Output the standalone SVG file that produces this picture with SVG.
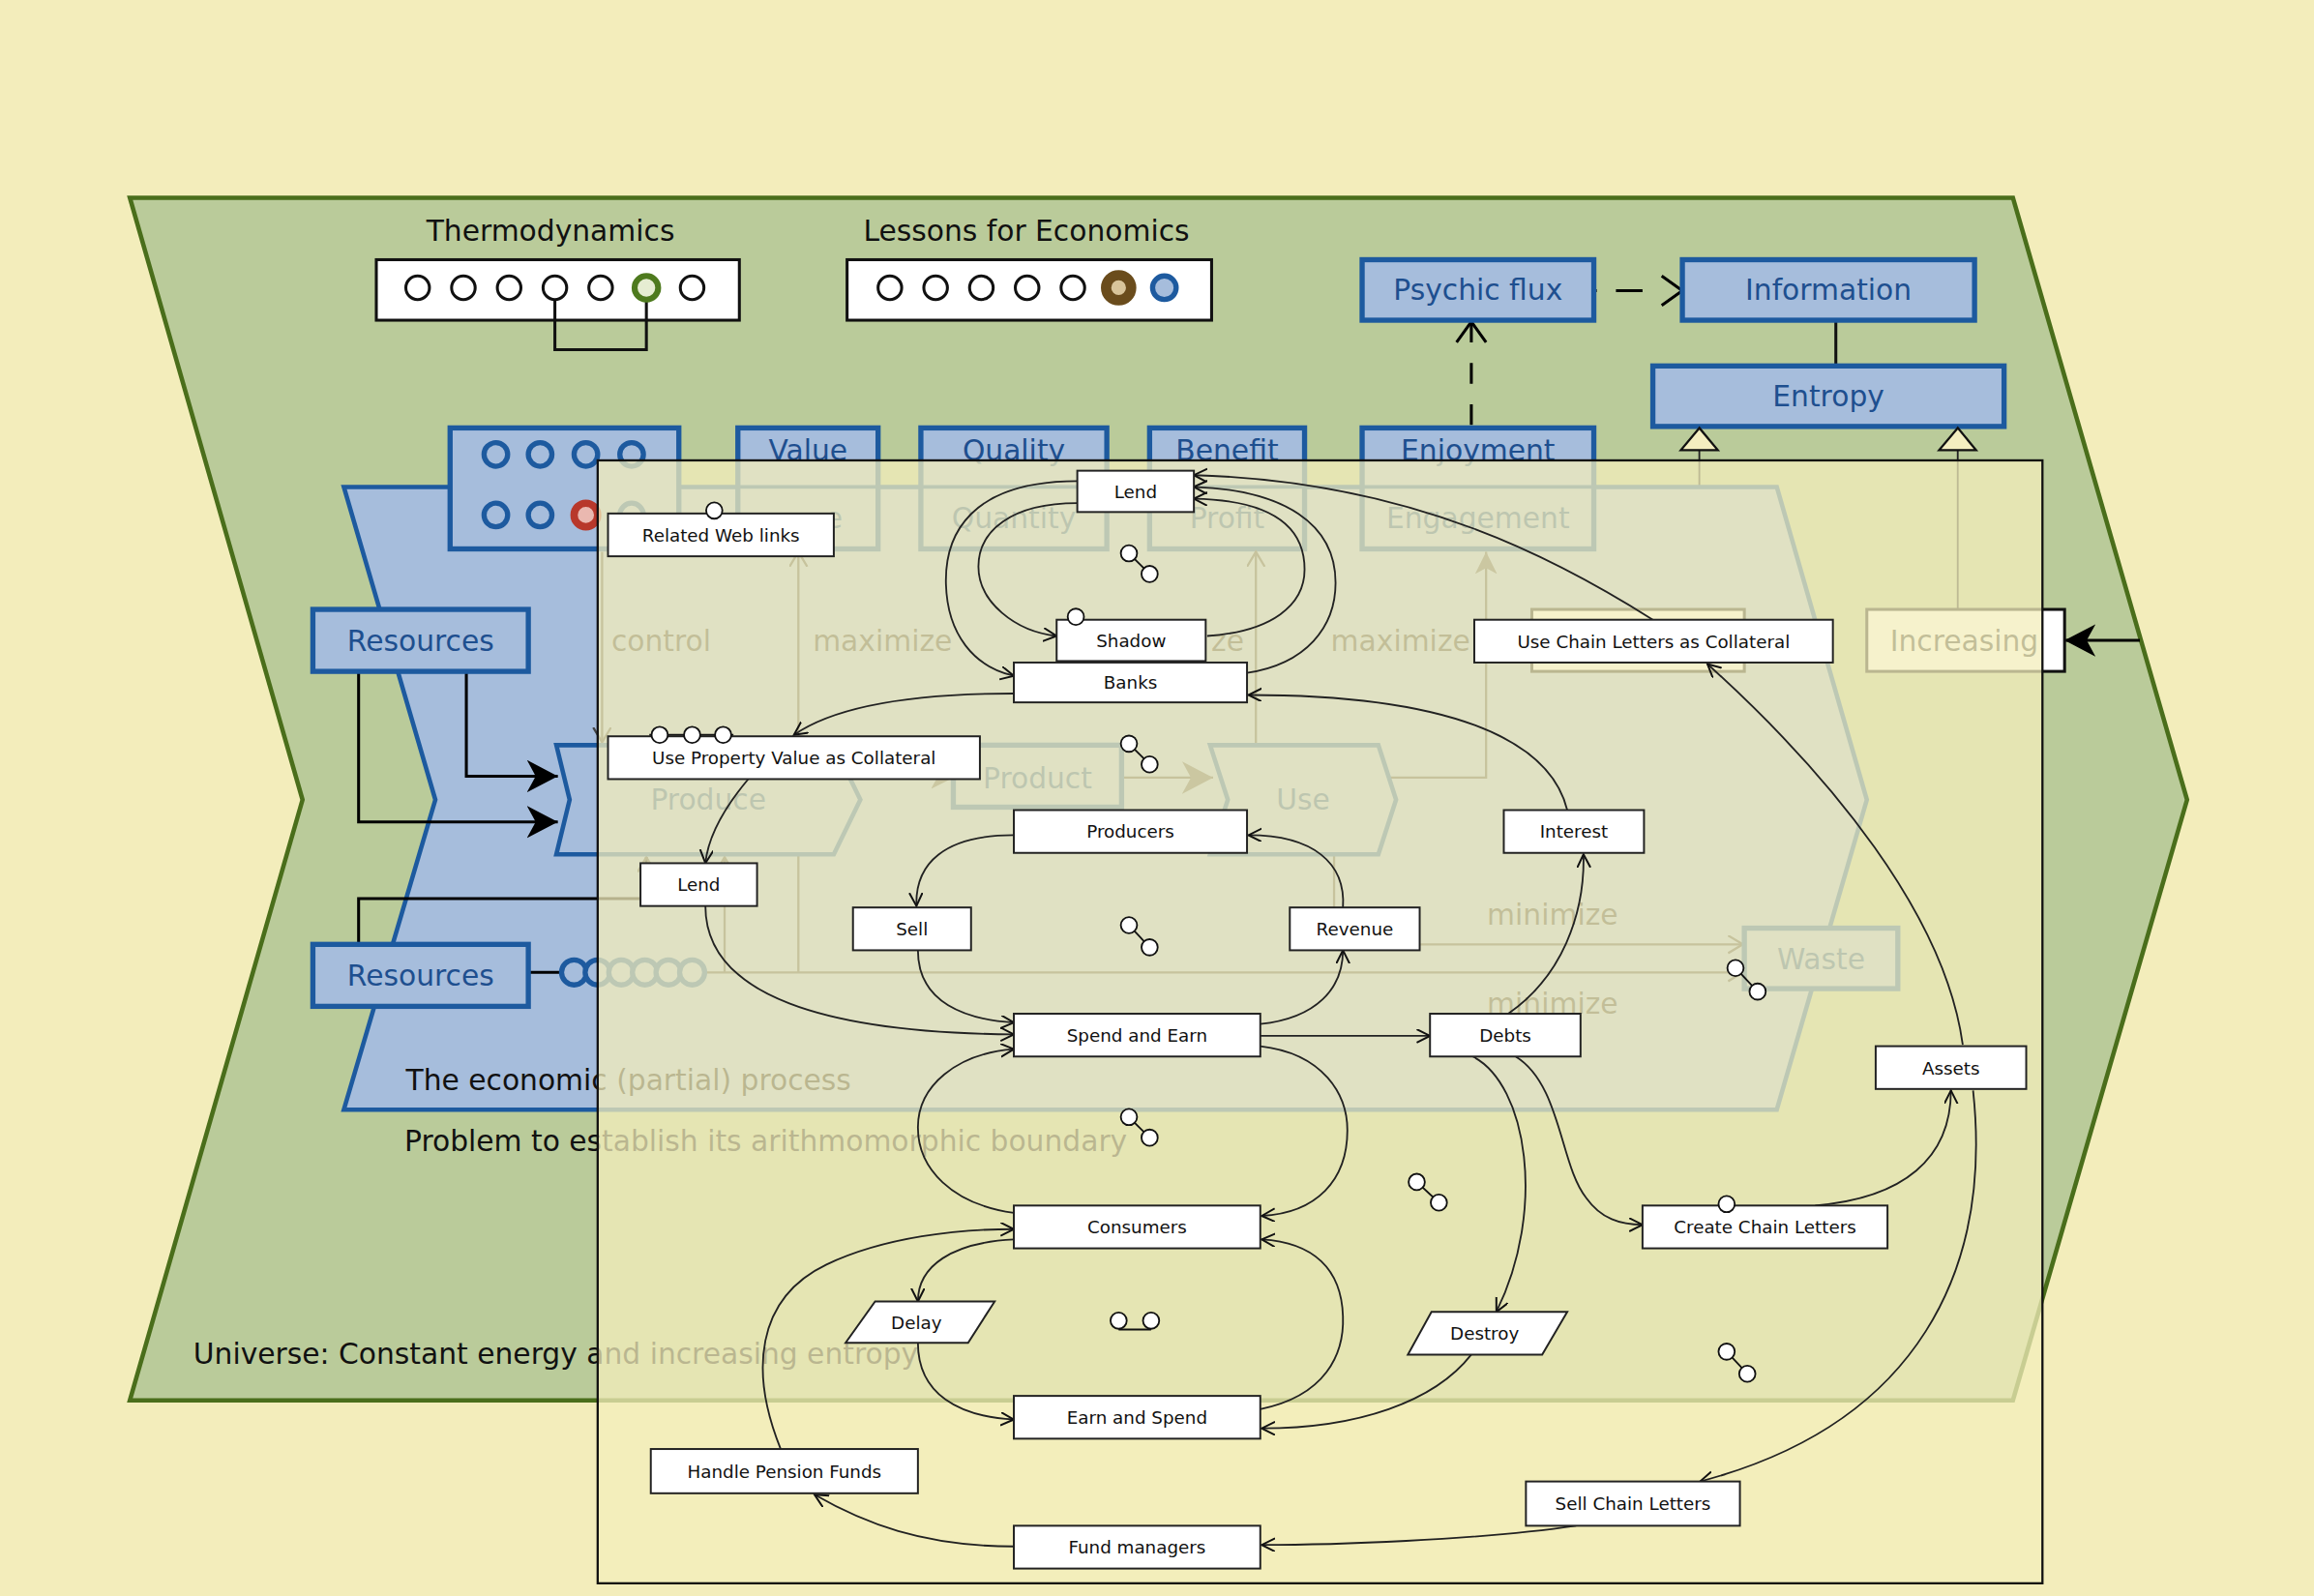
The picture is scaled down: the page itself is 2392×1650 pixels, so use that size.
<svg xmlns="http://www.w3.org/2000/svg" width="2392" height="1650" viewBox="0 0 2392 1650">
<style>
text{font-family:'DejaVu Sans','Liberation Sans',sans-serif}
.bl{fill:#A6BDDC;stroke:#1D5A9F;stroke-width:3.5}
.bc{fill:#A6BDDC;stroke:#1D5A9F;stroke-width:3}
.blt{font-size:19.5px;fill:#1E4F8F;text-anchor:middle}
.ble{font-size:19.5px;fill:#1E4F8F;text-anchor:end}
.bt{font-size:19.5px;fill:#111}
.ft{font-size:19.5px;fill:#333;text-anchor:middle}
.fte{font-size:19.5px;fill:#333;text-anchor:end}
.k{fill:#fff;stroke:#111;stroke-width:2}
.n rect,.n polygon{fill:#fff;stroke:#222;stroke-width:1.3}
.nt{font-size:12px;fill:#111;text-anchor:middle}
.c{fill:none;stroke:#222;stroke-width:1.2;marker-end:url(#oa)}
.ic{fill:#fff;stroke:#111;stroke-width:1.2}
.fl{fill:none;stroke:#444;stroke-width:1.5}
.bk{fill:#fff;stroke:#111;stroke-width:2}
.bcir{fill:#A6BDDC;stroke:#1D5A9F;stroke-width:3.5}
</style>
<defs>
<marker id="oa" markerUnits="userSpaceOnUse" markerWidth="12" markerHeight="12" refX="9" refY="4.5" orient="auto"><path d="M0,0 L9,4.5 L0,9" fill="none" stroke="#111" stroke-width="1.3"/></marker>
<marker id="fa" markerUnits="userSpaceOnUse" markerWidth="24" markerHeight="24" refX="21" refY="11" orient="auto"><path d="M0,0 L21,11 L0,22 L6,11 Z" fill="#000"/></marker>
<marker id="fg" markerUnits="userSpaceOnUse" markerWidth="24" markerHeight="24" refX="21" refY="11" orient="auto"><path d="M0,0 L21,11 L0,22 L6,11 Z" fill="#555"/></marker>
<marker id="ov" markerUnits="userSpaceOnUse" markerWidth="18" markerHeight="24" refX="15" refY="11" orient="auto"><path d="M1,1 L15,11 L1,21" fill="none" stroke="#000" stroke-width="2"/></marker>
<marker id="fs" markerUnits="userSpaceOnUse" markerWidth="18" markerHeight="18" refX="15" refY="7.5" orient="auto"><path d="M0,0 L15,7.5 L0,15 L4,7.5 Z" fill="#555"/></marker>
<marker id="of" markerUnits="userSpaceOnUse" markerWidth="14" markerHeight="14" refX="10" refY="6" orient="auto"><path d="M0,0 L10,6 L0,12" fill="none" stroke="#444" stroke-width="1.5"/></marker>
</defs>
<rect x="0" y="0" width="2392" height="1650" fill="#F3EDBB"/>
<g transform="scale(1.5255)">
<g id="universe">
<polygon points="88,134 1364,134 1482,542 1364,949 88,949 205,542" fill="#BACB9A" stroke="#4A6E1B" stroke-width="3"/>
<text class="bt" x="131" y="924">Universe: Constant energy and increasing entropy</text>
</g>
<g id="thermodynamics">
<text class="bt" x="373" y="163" text-anchor="middle">Thermodynamics</text>
<rect class="bk" x="255" y="176" width="246" height="41"/>
<path d="M376,203 V237 H438 V203" fill="none" stroke="#111" stroke-width="2"/>
<circle class="bk" cx="283" cy="195" r="8"/><circle class="bk" cx="314" cy="195" r="8"/><circle class="bk" cx="345" cy="195" r="8"/><circle class="bk" cx="376" cy="195" r="8"/><circle class="bk" cx="407" cy="195" r="8"/>
<circle cx="438" cy="195" r="8" fill="#E6EDD2" stroke="#4E7A1E" stroke-width="4"/>
<circle class="bk" cx="469" cy="195" r="8"/>
</g>
<g id="lessons">
<text class="bt" x="695.5" y="163" text-anchor="middle">Lessons for Economics</text>
<rect class="bk" x="574" y="176" width="247" height="41"/>
<circle class="bk" cx="603" cy="195" r="8"/><circle class="bk" cx="634" cy="195" r="8"/><circle class="bk" cx="665" cy="195" r="8"/><circle class="bk" cx="696" cy="195" r="8"/><circle class="bk" cx="727" cy="195" r="8"/>
<circle cx="758" cy="195" r="8.5" fill="#D8C49A" stroke="#6A4C1C" stroke-width="7"/>
<circle class="bcir" cx="789" cy="195" r="8"/>
</g>
<g id="top-connectors">
<path d="M1080,197 H1140" fill="none" stroke="#000" stroke-width="2" stroke-dasharray="2 13 18 100" marker-end="url(#ov)"/>
<path d="M997,288 V218" fill="none" stroke="#000" stroke-width="2" stroke-dasharray="14 14" marker-end="url(#ov)"/>
<path d="M1244,218 V248" stroke="#111" stroke-width="2"/>
<path d="M1151.5,305 V413 M1326.6,305 V413" stroke="#222" stroke-width="1.2"/>
</g>
<g id="psychic-flux"><rect class="bl" x="923" y="176" width="157" height="41"/><text class="blt" x="1001.5" y="203.5">Psychic flux</text></g>
<g id="information"><rect class="bl" x="1140" y="176" width="198" height="41"/><text class="blt" x="1239" y="203.5">Information</text></g>
<g id="entropy"><rect class="bl" x="1120" y="248" width="238" height="41"/><text class="blt" x="1239" y="275.5">Entropy</text></g>
<polygon points="1151.5,290 1139,305 1164,305" fill="#F4EEC0" stroke="#111" stroke-width="1.5"/>
<polygon points="1326.6,290 1314,305 1339,305" fill="#F4EEC0" stroke="#111" stroke-width="1.5"/>

<g id="economic-process">
<polygon class="bc" points="233,330 1204,330 1265,542 1204,752 233,752 295,542"/>
<text class="bt" x="275" y="739">The economic (partial) process</text>
</g>
<text class="bt" x="274" y="780">Problem to establish its arithmomorphic boundary</text>

<g id="state-box">
<rect class="bl" x="305" y="290" width="155" height="82"/>
<circle class="bcir" cx="336" cy="308" r="8"/><circle class="bcir" cx="366" cy="308" r="8"/><circle class="bcir" cx="397" cy="308" r="8"/><circle class="bcir" cx="428" cy="308" r="8"/>
<circle class="bcir" cx="336" cy="349" r="8"/><circle class="bcir" cx="366" cy="349" r="8"/>
<circle cx="397" cy="349" r="8" fill="#EAB8B0" stroke="#B8382B" stroke-width="5"/>
<circle class="bcir" cx="428" cy="349" r="8"/>
</g>
<g id="value"><rect class="bl" x="500" y="290" width="95" height="82"/><line x1="500" y1="330" x2="595" y2="330" stroke="#1D5A9F" stroke-width="2.5"/><text class="blt" x="547.5" y="312">Value</text><text class="ble" x="571" y="358">e</text></g>
<g id="quality"><rect class="bl" x="624" y="290" width="126" height="82"/><line x1="624" y1="330" x2="750" y2="330" stroke="#1D5A9F" stroke-width="2.5"/><text class="blt" x="687" y="312">Quality</text><text class="blt" x="687" y="358">Quantity</text></g>
<g id="benefit"><rect class="bl" x="779" y="290" width="105" height="82"/><line x1="779" y1="330" x2="884" y2="330" stroke="#1D5A9F" stroke-width="2.5"/><text class="blt" x="831.5" y="312">Benefit</text><text class="blt" x="831.5" y="358">Profit</text></g>
<g id="enjoyment"><rect class="bl" x="923" y="290" width="157" height="82"/><line x1="923" y1="330" x2="1080" y2="330" stroke="#1D5A9F" stroke-width="2.5"/><text class="blt" x="1001.5" y="312">Enjoyment</text><text class="blt" x="1001.5" y="358">Engagement</text></g>

<g id="process-connectors">
<path d="M243,455 V557 H378" fill="none" stroke="#000" stroke-width="2" marker-end="url(#fa)"/>
<path d="M316,455 V526 H378" fill="none" stroke="#000" stroke-width="2" marker-end="url(#fa)"/>
<path d="M243,640 V609 H438 V581" fill="none" stroke="#000" stroke-width="2" marker-end="url(#of)"/>
<path d="M358,659 H380" stroke="#000" stroke-width="2"/>
<path class="fl" d="M478,659 H1181" marker-end="url(#of)"/>
<path class="fl" d="M541,659 V374" marker-end="url(#of)"/>
<path class="fl" d="M491,659 V581" marker-end="url(#of)"/>
<path class="fl" d="M408,374 V503" marker-end="url(#of)"/>
<path class="fl" d="M851,505 V374" marker-end="url(#of)"/>
<path class="fl" d="M940,527 H1007 V374" marker-end="url(#fs)"/>
<path class="fl" d="M904,579 V640 H1181" marker-end="url(#of)"/>
<path class="fl" d="M577,527 H646" marker-end="url(#fs)"/>
<path class="fl" d="M760,527 H822" marker-end="url(#fg)"/>
<path d="M1450,434 H1399" fill="none" stroke="#000" stroke-width="2" marker-end="url(#fa)"/>
</g>
<g id="resources-1"><rect class="bl" x="212" y="413" width="146" height="42"/><text class="blt" x="285" y="441">Resources</text></g>
<g id="resources-2"><rect class="bl" x="212" y="640" width="146" height="42"/><text class="blt" x="285" y="668">Resources</text>
<circle class="bcir" cx="389" cy="659" r="8.5"/><circle class="bcir" cx="405" cy="659" r="8.5"/><circle class="bcir" cx="421" cy="659" r="8.5"/><circle class="bcir" cx="437" cy="659" r="8.5"/><circle class="bcir" cx="453" cy="659" r="8.5"/><circle class="bcir" cx="469" cy="659" r="8.5"/></g>
<g id="produce"><polygon class="bc" points="377,505 565,505 583,542 565,579 377,579 386,542"/><text class="blt" x="480" y="549">Produce</text></g>
<g id="product"><rect class="bl" x="646" y="505" width="114" height="42"/><text class="blt" x="703" y="534">Product</text></g>
<g id="use"><polygon class="bc" points="820,505 934,505 946,542 934,579 820,579 832,542"/><text class="blt" x="883" y="549">Use</text></g>
<g id="waste"><rect class="bl" x="1182" y="629" width="104" height="41"/><text class="blt" x="1234" y="657">Waste</text></g>
<g id="hidden-box"><rect class="k" x="1038" y="413" width="144" height="42"/></g>
<g id="increasing"><rect class="k" x="1265" y="413" width="134" height="42"/><text class="ft" x="1331" y="441">Increasing</text></g>
<g id="labels">
<text class="ft" x="448" y="441">control</text>
<text class="ft" x="598" y="441">maximize</text>
<text class="fte" x="843" y="441">ze</text>
<text class="ft" x="949" y="441">maximize</text>
<text class="ft" x="1052" y="627">minimize</text>
<text class="ft" x="1052" y="687">minimize</text>
</g>

<rect id="overlay" x="405" y="312" width="979" height="761" fill="#F3EDBB" fill-opacity="0.75" stroke="#111" stroke-width="1.5"/>

<g id="connectors">
<path class="c" d="M730,326 C658,326 640,362 641,396 C642,430 660,452 687,458"/>
<path class="c" d="M730,341 C685,341 663,360 663,384 C663,408 688,428 716,431"/>
<path class="c" d="M845,456 C885,450 905,425 905,395 C905,355 870,332 809,330"/>
<path class="c" d="M818,431 C862,428 884,410 884,386 C884,357 862,339 809,338"/>
<path class="c" d="M1120,420 C1060,382 960,326 809,322"/>
<path class="c" d="M687,470 C620,470 567,478 538,498"/>
<path class="c" d="M1062,549 C1050,500 980,471 846,471"/>
<path class="c" d="M507,528 C492,546 480,565 478,585"/>
<path class="c" d="M687,566 C640,566 620,585 621,614"/>
<path class="c" d="M910,615 C912,585 890,566 846,566"/>
<path class="c" d="M622,644 C622,680 655,691 687,693"/>
<path class="c" d="M478,614 C478,675 560,700 687,701"/>
<path class="c" d="M854,694 C892,690 910,670 910,644"/>
<path class="c" d="M854,702 H969"/>
<path class="c" d="M1022,687 C1058,662 1074,620 1073,579"/>
<path class="c" d="M1027,716 C1058,735 1057,790 1075,812 C1085,826 1098,830 1113,830"/>
<path class="c" d="M998,716 C1035,735 1048,820 1014,889"/>
<path class="c" d="M1230,817 C1290,812 1322,785 1322,739"/>
<path class="c" d="M1330,708 C1318,620 1240,525 1157,450"/>
<path class="c" d="M1337,739 C1350,860 1300,965 1152,1004"/>
<path class="c" d="M1068,1034 C1000,1044 900,1047 855,1047"/>
<path class="c" d="M687,1048 C625,1048 585,1032 552,1013"/>
<path class="c" d="M529,982 C508,930 512,880 560,857 C600,838 650,833 687,833"/>
<path class="c" d="M687,840 C645,842 622,858 622,882"/>
<path class="c" d="M622,910 C622,945 650,960 687,962"/>
<path class="c" d="M854,955 C898,946 911,918 910,892 C909,860 890,842 855,840"/>
<path class="c" d="M854,709 C897,714 913,742 913,766 C913,800 892,822 855,824"/>
<path class="c" d="M687,822 C645,816 622,792 622,764 C622,736 648,714 687,711"/>
<path class="c" d="M997,918 C972,950 920,968 855,968"/>
</g>

<g id="link-icons" stroke="#111" stroke-width="1.2">
<line x1="765" y1="375" x2="779" y2="389"/><circle class="ic" cx="765" cy="375" r="5.5"/><circle class="ic" cx="779" cy="389" r="5.5"/>
<line x1="765" y1="504" x2="779" y2="518"/><circle class="ic" cx="765" cy="504" r="5.5"/><circle class="ic" cx="779" cy="518" r="5.5"/>
<line x1="765" y1="627" x2="779" y2="642"/><circle class="ic" cx="765" cy="627" r="5.5"/><circle class="ic" cx="779" cy="642" r="5.5"/>
<line x1="765" y1="757" x2="779" y2="771"/><circle class="ic" cx="765" cy="757" r="5.5"/><circle class="ic" cx="779" cy="771" r="5.5"/>
<line x1="960" y1="801" x2="975" y2="815"/><circle class="ic" cx="960" cy="801" r="5.5"/><circle class="ic" cx="975" cy="815" r="5.5"/>
<line x1="1176" y1="656" x2="1191" y2="672"/><circle class="ic" cx="1176" cy="656" r="5.5"/><circle class="ic" cx="1191" cy="672" r="5.5"/>
<line x1="1170" y1="916" x2="1184" y2="931"/><circle class="ic" cx="1170" cy="916" r="5.5"/><circle class="ic" cx="1184" cy="931" r="5.5"/>
<path d="M758,901 H780" fill="none"/><circle class="ic" cx="758" cy="895" r="5.5"/><circle class="ic" cx="780" cy="895" r="5.5"/>
</g>

<g id="n-lend-top" class="n"><rect x="730" y="319" width="79" height="28"/><text class="nt" x="769.5" y="337.5">Lend</text></g>
<g id="n-related" class="n"><rect x="412" y="348" width="153" height="29"/><text class="nt" x="488.5" y="367">Related Web links</text><circle class="ic" cx="484" cy="346" r="5.5"/></g>
<g id="n-shadow" class="n"><rect x="716" y="420" width="101" height="28"/><text class="nt" x="766.5" y="438.5">Shadow</text><circle class="ic" cx="729" cy="418" r="5.5"/></g>
<g id="n-banks" class="n"><rect x="687" y="449" width="158" height="27"/><text class="nt" x="766" y="467">Banks</text></g>
<g id="n-uclc" class="n"><rect x="999" y="420" width="243" height="29"/><text class="nt" x="1120.5" y="439">Use Chain Letters as Collateral</text></g>
<g id="n-upvc" class="n"><rect x="412" y="499" width="252" height="29"/><text class="nt" x="538" y="518">Use Property Value as Collateral</text><path d="M440,498 H497" stroke="#111" stroke-width="1.2"/><circle class="ic" cx="447" cy="498" r="5.5"/><circle class="ic" cx="469" cy="498" r="5.5"/><circle class="ic" cx="490" cy="498" r="5.5"/></g>
<g id="n-producers" class="n"><rect x="687" y="549" width="158" height="29"/><text class="nt" x="766" y="568">Producers</text></g>
<g id="n-interest" class="n"><rect x="1019" y="549" width="95" height="29"/><text class="nt" x="1066.5" y="568">Interest</text></g>
<g id="n-lend-2" class="n"><rect x="434" y="585" width="79" height="29"/><text class="nt" x="473.5" y="604">Lend</text></g>
<g id="n-sell" class="n"><rect x="578" y="615" width="80" height="29"/><text class="nt" x="618" y="634">Sell</text></g>
<g id="n-revenue" class="n"><rect x="874" y="615" width="88" height="29"/><text class="nt" x="918" y="634">Revenue</text></g>
<g id="n-spend-earn" class="n"><rect x="687" y="687" width="167" height="29"/><text class="nt" x="770.5" y="706">Spend and Earn</text></g>
<g id="n-debts" class="n"><rect x="969" y="687" width="102" height="29"/><text class="nt" x="1020" y="706">Debts</text></g>
<g id="n-assets" class="n"><rect x="1271" y="709" width="102" height="29"/><text class="nt" x="1322" y="728">Assets</text></g>
<g id="n-consumers" class="n"><rect x="687" y="817" width="167" height="29"/><text class="nt" x="770.5" y="836">Consumers</text></g>
<g id="n-ccl" class="n"><rect x="1113" y="817" width="166" height="29"/><text class="nt" x="1196" y="836">Create Chain Letters</text><circle class="ic" cx="1170" cy="816" r="5.5"/></g>
<g id="n-delay" class="n"><polygon points="593,882 674,882 656,910 573,910"/><text class="nt" x="621" y="900.5">Delay</text></g>
<g id="n-destroy" class="n"><polygon points="970,889 1062,889 1045,918 954,918"/><text class="nt" x="1006" y="908">Destroy</text></g>
<g id="n-earn-spend" class="n"><rect x="687" y="946" width="167" height="29"/><text class="nt" x="770.5" y="965">Earn and Spend</text></g>
<g id="n-hpf" class="n"><rect x="441" y="982" width="181" height="30"/><text class="nt" x="531.5" y="1001.5">Handle Pension Funds</text></g>
<g id="n-scl" class="n"><rect x="1034" y="1004" width="145" height="30"/><text class="nt" x="1106.5" y="1023.5">Sell Chain Letters</text></g>
<g id="n-fund" class="n"><rect x="687" y="1034" width="167" height="29"/><text class="nt" x="770.5" y="1053">Fund managers</text></g>
</g>
</svg>
